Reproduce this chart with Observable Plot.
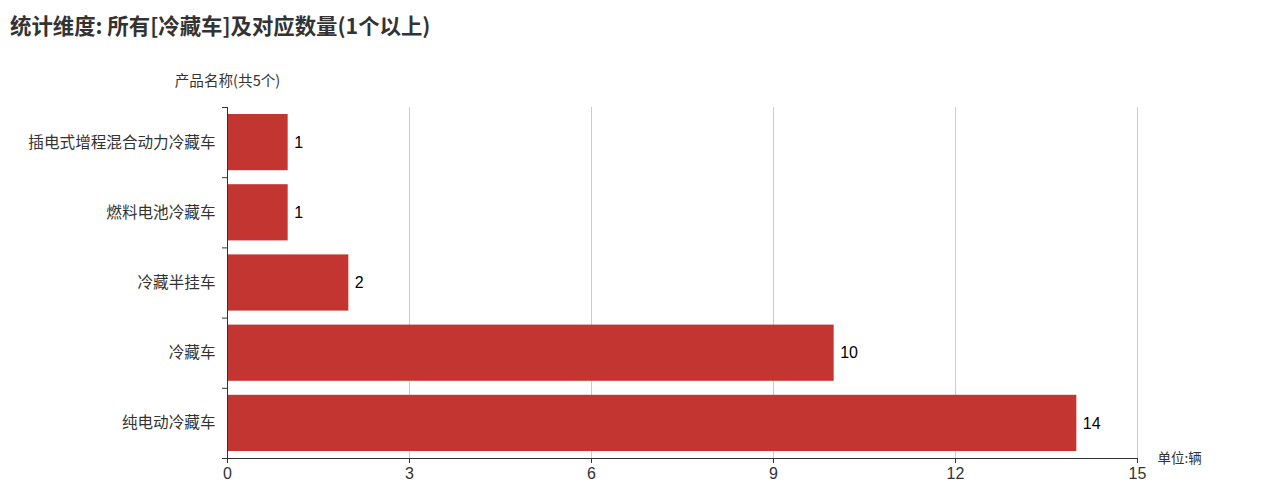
<!DOCTYPE html>
<html>
<head>
<meta charset="utf-8">
<script src="https://cdn.jsdelivr.net/npm/d3@7"></script>
<script src="https://cdn.jsdelivr.net/npm/@observablehq/plot@0.6"></script>
<style>
  html, body { margin: 0; padding: 0; background: #fff; }
  body { width: 1269px; height: 497px; overflow: hidden; font-family: "Noto Sans CJK SC", "Noto Sans", sans-serif; }
  #title { height: 50px; box-sizing: border-box; padding: 10px 0 0 10px; font-size: 21.4px; font-weight: bold; color: #333; line-height: 30px; }
  #chart svg { display: block; }
</style>
</head>
<body>
<div id="title">统计维度: 所有[冷藏车]及对应数量(1个以上)</div>
<div id="chart"></div>
<script>
const titleText = "统计维度: 所有[冷藏车]及对应数量(1个以上)";
const yAxisName = "产品名称(共5个)";
const unitText = "单位:辆";
const names = ["插电式增程混合动力冷藏车", "燃料电池冷藏车", "冷藏半挂车", "冷藏车", "纯电动冷藏车"];
const values = [1, 1, 2, 10, 14];
const xTicks = [0, 3, 6, 9, 12, 15];

const data = names.map((n, i) => ({name: n, value: values[i], i}));
const boundaries = d3.range(0, names.length + 1);
const centers = names.map((_, i) => i + 0.5);
const numFont = "'Liberation Sans', Arial, sans-serif";

const chart = Plot.plot({
  width: 1269,
  height: 447,
  marginLeft: 227,
  marginRight: 132,
  marginTop: 57,
  marginBottom: 39,
  style: {fontFamily: "'Noto Sans CJK SC', 'Noto Sans', sans-serif", background: "#fff"},
  x: {domain: [0, 15], label: null},
  y: {domain: [0, names.length], reverse: true, label: null},
  marks: [
    Plot.gridX(xTicks.slice(1), {stroke: "#ccc", strokeOpacity: 1}),
    Plot.rectX(data, {x1: 0, x2: "value", y1: "i", y2: d => d.i + 1, insetTop: 7, insetBottom: 7, fill: "#c23531"}),
    Plot.text(data, {x: "value", y: d => d.i + 0.5, text: d => String(d.value), dx: 6, textAnchor: "start", fontSize: 16, fontFamily: numFont, fill: "#000"}),
    Plot.ruleY([names.length], {x1: 0, x2: 15, stroke: "#333"}),
    Plot.ruleX([0], {y1: 0, y2: names.length, stroke: "#333"}),
    Plot.axisX({ticks: xTicks, tickSize: 5, tickPadding: 4, fontSize: 16, fontFamily: numFont, color: "#333", label: null}),
    Plot.axisY({ticks: boundaries, tickSize: 5, tickFormat: () => "", color: "#333", label: null}),
    Plot.axisY({ticks: centers, tickSize: 0, tickPadding: 12, tickFormat: d => names[Math.floor(d)], fontSize: 15.6, color: "#333", label: null}),
    Plot.text([unitText], {x: 15, y: names.length, text: d => d, dx: 20, textAnchor: "start", fontSize: 13.5, fill: "#333"}),
    Plot.text([yAxisName], {x: 0, y: 0, text: d => d, dy: -26, textAnchor: "middle", fontSize: 14.6, fill: "#333"})
  ]
});
document.getElementById("chart").appendChild(chart);
</script>
</body>
</html>
